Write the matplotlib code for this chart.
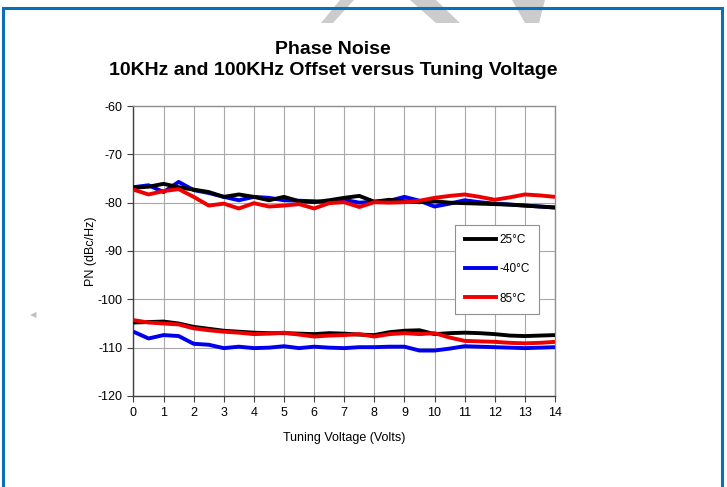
import numpy as np
import matplotlib
matplotlib.use("Agg")
import matplotlib.pyplot as plt
from matplotlib.patches import Rectangle, Polygon
from matplotlib.lines import Line2D

# tuning voltage (V), 0.5 V steps
volts = np.arange(0, 14.5, 0.5)

# 10 kHz offset (upper group), dBc/Hz
pn10k_25c = [-76.9, -76.7, -76.1, -76.8, -77.3, -77.8, -78.8, -78.3, -78.8, -79.5,
             -78.8, -79.7, -79.9, -79.5, -79.0, -78.6, -79.8, -79.4, -79.7, -79.9,
             -79.7, -80.0, -80.1, -80.2, -80.3, -80.4, -80.6, -80.8, -81.0]
pn10k_m40c = [-76.8, -76.4, -77.8, -75.7, -77.4, -78.0, -78.8, -79.5, -78.8, -79.0,
              -79.5, -79.6, -79.7, -79.9, -79.4, -80.0, -79.8, -79.6, -78.8, -79.6,
              -80.8, -80.2, -79.5, -79.9, -80.2, -80.4, -80.6, -80.8, -81.0]
pn10k_85c = [-77.3, -78.3, -77.6, -77.2, -78.8, -80.6, -80.2, -81.2, -80.1, -80.8,
             -80.6, -80.3, -81.2, -80.1, -79.9, -80.9, -79.9, -80.0, -79.9, -79.6,
             -79.0, -78.6, -78.3, -78.8, -79.4, -78.9, -78.3, -78.5, -78.8]

# 100 kHz offset (lower group), dBc/Hz
pn100k_25c = [-104.8, -104.7, -104.6, -105.0, -105.7, -106.1, -106.5, -106.7, -106.9, -107.0,
              -107.0, -107.1, -107.2, -107.0, -107.1, -107.3, -107.4, -106.8, -106.5, -106.4,
              -107.2, -107.0, -106.9, -107.0, -107.2, -107.5, -107.6, -107.5, -107.4]
pn100k_m40c = [-106.7, -108.1, -107.4, -107.6, -109.2, -109.4, -110.1, -109.8, -110.1, -110.0,
               -109.7, -110.1, -109.8, -110.0, -110.1, -109.9, -109.9, -109.8, -109.8, -110.6,
               -110.6, -110.2, -109.7, -109.8, -109.9, -110.0, -110.1, -110.0, -109.9]
pn100k_85c = [-104.3, -104.8, -105.0, -105.2, -106.0, -106.4, -106.7, -106.9, -107.2, -107.1,
              -106.9, -107.3, -107.7, -107.5, -107.4, -107.2, -107.7, -107.2, -107.0, -107.2,
              -107.0, -107.9, -108.6, -108.7, -108.8, -109.0, -109.1, -109.0, -108.8]

labels = ["25°C", "-40°C", "85°C"]
colors = ["#000000", "#0000ee", "#ee0000"]

plt.rcParams["font.family"] = ["Liberation Sans", "DejaVu Sans"]
plt.rcParams["axes.unicode_minus"] = False

fig = plt.figure(figsize=(7.27, 4.87), dpi=100)
ax = fig.add_axes([0.1836, 0.1869, 0.5798, 0.5954])

# draw -40 first, then 25, then 85 on top (as in the source)
for series, c in [(pn10k_m40c, colors[1]), (pn10k_25c, colors[0]), (pn10k_85c, colors[2]),
                  (pn100k_m40c, colors[1]), (pn100k_25c, colors[0]), (pn100k_85c, colors[2])]:
    ax.plot(volts, series, color=c, lw=2.8, solid_capstyle="butt", zorder=3)

ax.set_xlim(0, 14)
ax.set_ylim(-120, -60)
ax.set_xticks(range(0, 15))
ax.set_yticks(range(-120, -59, 10))
ax.grid(True, color="#a8a8a8", lw=0.8)
ax.set_axisbelow(True)
for s in ["left", "bottom"]:
    ax.spines[s].set_color("#404040")
    ax.spines[s].set_linewidth(1.0)
for s in ["right", "top"]:
    ax.spines[s].set_color("#909090")
    ax.spines[s].set_linewidth(1.0)
ax.tick_params(direction="out", length=4, width=0.8, color="#404040",
               labelsize=9, pad=4)
ax.set_xlabel("Tuning Voltage (Volts)", fontsize=9, labelpad=9)
ax.set_ylabel("PN (dBc/Hz)", fontsize=9, labelpad=0.5)

handles = [Line2D([], [], color=c, lw=2.8) for c in colors]
leg = ax.legend(handles, labels, loc="upper left", bbox_to_anchor=(0.763, 0.59),
                fontsize=8.5, frameon=True, fancybox=False, edgecolor="#909090",
                framealpha=1, handlelength=2.7, handletextpad=0.25,
                labelspacing=1.45, borderpad=0.8, borderaxespad=0)
leg.get_frame().set_linewidth(0.8)

fig.text(333 / 727, 1 - 60 / 487, "Phase Noise\n10KHz and 100KHz Offset versus Tuning Voltage",
         ha="center", va="center", fontsize=14, fontweight="bold", linespacing=1.25)

# blue outer frame
fig.patches.append(Rectangle((3 / 727, -0.02), 719 / 727, 1 - 8 / 487 + 0.02,
                             transform=fig.transFigure, fill=False,
                             edgecolor="#0a6fb8", lw=2.2))

# faint watermark fragments at the top
for pts in [[(340, 0), (354, 0), (333, 23), (321, 23)],
            [(410, 0), (436, 0), (460, 23), (436, 23)],
            [(512, 0), (545, 0), (539, 23), (525, 23)]]:
    fig.patches.append(Polygon([(x / 727, 1 - y / 487) for x, y in pts],
                               closed=True, transform=fig.transFigure,
                               facecolor="#cccccc", edgecolor="none", zorder=0))
fig.text(33 / 727, 1 - 315 / 487, "◀", color="#c0c0c0", fontsize=6,
         ha="center", va="center", family="DejaVu Sans")

fig.savefig("out.png", dpi=100)
